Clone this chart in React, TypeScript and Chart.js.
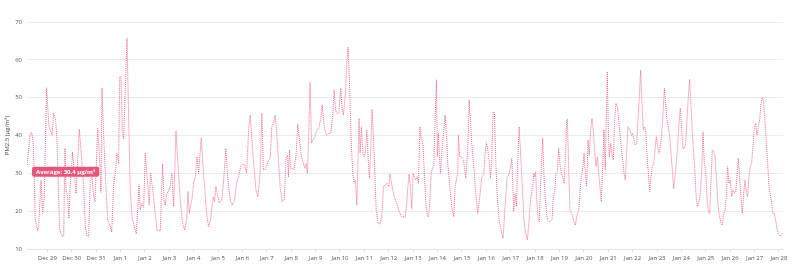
import React, { useEffect, useRef } from "react";
import { Chart, registerables } from "chart.js";

Chart.register(...registerables);

// x tick labels (one per day, midnight)
const tickLabels = [
  "Dec 29", "Dec 30", "Dec 31", "Jan 1", "Jan 2", "Jan 3", "Jan 4", "Jan 5", "Jan 6", "Jan 7",
  "Jan 8", "Jan 9", "Jan 10", "Jan 11", "Jan 12", "Jan 13", "Jan 14", "Jan 15", "Jan 16", "Jan 17",
  "Jan 18", "Jan 19", "Jan 20", "Jan 21", "Jan 22", "Jan 23", "Jan 24", "Jan 25", "Jan 26", "Jan 27", "Jan 28",
];

// hours since Dec 28 00:00
const hours = [
  4, 5.3, 7.3, 8.6, 10, 11, 12, 14.5, 15.5, 17.8, 19.4, 21, 23.3, 25.6, 28.6, 30.2, 32.2, 33.5, 36.1, 38.4,
  40.1, 41.4, 42.4, 44, 45.3, 46.6, 48.9, 50.6, 52.2, 53.8, 55.5, 57.4, 59.7, 61.4, 63, 64.7, 66.3, 67.9, 69.6, 70.9,
  72.2, 73.5, 75.5, 76.8, 77.8, 79.4, 81.1, 83.3, 86, 87.3, 89.3, 90.9, 92.5, 94.2, 95.2, 96.5, 97.8, 99.1, 100.4, 102.4,
  104, 105.6, 107.6, 109.6, 111.5, 112.9, 114.2, 115.5, 117.1, 118.8, 120.4, 122, 124.3, 125.6, 127.6, 131.9, 135.2, 137.4, 138.8, 140.1,
  141.4, 143.4, 144.7, 146.6, 148.3, 150.6, 151.9, 153.2, 154.8, 157.1, 159.1, 161.1, 162.4, 163.7, 165, 166.3, 168.3, 169.6, 171.2, 172.9,
  174.5, 175.5, 176.8, 178.8, 180.7, 182.7, 184.7, 186, 187.3, 188.6, 189.9, 191.2, 193.2, 195.8, 197.8, 199.7, 201.1, 202.4, 204.3, 206.3,
  208.3, 210.2, 212.2, 214.2, 216.1, 218.1, 220.1, 222.1, 223.7, 225.3, 227.3, 229.3, 231.2, 233.2, 235.2, 236.5, 238.5, 241, 243.3, 244.9,
  246.6, 248.2, 249.9, 251.5, 253.1, 255.1, 257.1, 259, 260.4, 261.3, 262.3, 263.6, 264.9, 266.9, 268.9, 270.5, 272.2, 274.1, 276.1, 277.4,
  278.7, 280, 281.3, 282.6, 284, 285.3, 287.2, 289.2, 291.2, 293.1, 294.5, 295.8, 297.1, 299, 301, 303, 305, 306.3, 307.6, 308.9,
  310.8, 312.8, 314.1, 315.4, 317.4, 318.7, 320, 321.3, 322.3, 323.3, 324.6, 325.9, 327.2, 328.6, 329.9, 330.8, 331.8, 333.1, 334.5, 335.8,
  337.1, 338.4, 339.7, 341, 342.3, 343.6, 345, 346.3, 347.6, 349.5, 351.5, 353.5, 354.8, 356.1, 358.1, 360, 361.3, 363.3, 365.3, 367.9,
  370.2, 372.9, 376.1, 377.5, 378.8, 380.1, 381.4, 382.7, 384, 385.3, 386.6, 387.9, 389.3, 390.6, 391.9, 393.2, 393.8, 395.2, 396.5, 397.8,
  399.1, 400.4, 401.7, 403, 404.3, 405.6, 407, 407.9, 408.9, 409.6, 410.9, 412.2, 414.2, 415.5, 416.8, 418.1, 420.1, 422, 424, 425.3,
  426.6, 427.9, 428.6, 429.9, 431.2, 433.2, 434.5, 435.8, 437.1, 438.4, 439.1, 440.4, 441.7, 443.7, 445.6, 447.6, 449.6, 451.6, 453.5, 454.8,
  456.1, 457.5, 458.8, 460.1, 461.4, 462.7, 464, 465.3, 466.6, 468.6, 470.6, 472.5, 474.5, 476.5, 478.4, 479.8, 481.1, 482.4, 483, 484.3,
  485.7, 487, 488.3, 489.6, 490.9, 492.9, 494.2, 496.4, 497.7, 499, 500.3, 501.7, 502.6, 503.6, 504.6, 505.6, 506.9, 508.2, 509.5, 511.5,
  512.8, 514.1, 516.1, 518.1, 520.7, 522, 523.3, 524.6, 525.9, 527.2, 528.5, 529.9, 531.2, 532.5, 533.8, 535.1, 535.8, 537.1, 538.4, 540.4,
  541.7, 543.6, 545.6, 546.9, 548.2, 549.5, 550.8, 552.2, 553.5, 554.8, 556.1, 557.4, 558.7, 560, 561.3, 562.7, 564, 565.3, 566.6, 567.9,
  569.2, 570.5, 571.8, 573.1, 573.8, 574.5, 575.1, 576.1, 577.1, 578.4, 579.7, 581, 582.3, 583.6, 585, 586.3, 587.6, 589.5, 591.5, 592.8,
  594.1, 595.4, 597.4, 598.7, 600, 601.3, 602.7, 604, 605.3, 606.6, 607.9, 609.2, 610.5, 611.8, 613.1, 613.8, 615.5, 616.8, 618.1, 619.4,
  620.7, 622, 623.3, 624.7, 626, 627.3, 628.6, 629.9, 631.2, 632.5, 633.8, 635.2, 636.5, 637.8, 639.1, 640.4, 641.7, 643, 644.3, 645.6,
  647, 648.3, 649.6, 650.9, 652.2, 653.5, 654.8, 656.1, 657.5, 658.8, 660.1, 661.4, 662.7, 664, 665.3, 666.6, 668, 669.3, 670.6, 671.9,
  673.2, 674.5, 675.8, 677.1, 678.4, 679.7, 681.1, 682.4, 683.7, 685, 687, 688.3, 689.6, 690.9, 692.2, 693.5, 694.8, 696.1, 697.5, 698.8,
  700.1, 701.4, 702.7, 704, 705.3, 706.6, 708, 709.3, 710.6, 711.9, 713.2, 714.5, 715.8, 717.1, 718.4, 719.8, 721.1, 722.4, 723.7, 725,
  726.3, 727.6, 728.9, 730.2, 731.6, 732.9, 734.2, 735.5, 736.8, 738.1, 739.4, 740.7, 742, 743.4, 745.3, 747.3,
];

// PM2.5 (µg/m³)
const pm25 = [
  32.2, 35.7, 40.6, 40.8, 38.5, 31, 18, 14.8, 16, 28.2, 19.4, 23.8, 52.6, 42.3, 40.1, 45.9, 44, 38.8, 15, 13.4,
  13.4, 36.6, 25.6, 24, 18.1, 27, 35.6, 30, 24.7, 33, 41.7, 35.3, 27, 16, 13.4, 13.4, 28.2, 29, 24, 22.5,
  32, 41.9, 34, 25, 52.6, 40, 30, 17.7, 16, 14.5, 27, 30, 35.3, 32.6, 55.5, 55.5, 41, 39, 50, 65.7,
  45, 25.6, 18, 16, 14, 20, 27, 20.3, 22, 21, 35.3, 30, 21.6, 30, 26, 15, 14.8, 32.5, 23, 21.6,
  24.7, 25.2, 26.5, 30, 21.2, 41.2, 35.3, 30, 23, 16.8, 15, 17.7, 25.2, 19.4, 21.6, 23, 28.2, 28.6, 34.4, 30,
  36, 39.3, 33.5, 26.5, 19.4, 15.9, 17.7, 21.2, 23.8, 22.5, 26.5, 24.7, 22.2, 23, 29.1, 36.6, 30.4, 26.5, 22.5, 21.6,
  23, 27.4, 29.1, 31.8, 32.5, 32.3, 30, 41.4, 45.4, 38.8, 31.8, 25.6, 23.8, 29.1, 45.9, 30.9, 31, 33, 34, 42.3,
  43.2, 45.4, 40.1, 33.5, 26.5, 22.5, 23, 34.4, 34.8, 29.1, 36.2, 31.3, 31.3, 30.9, 35.3, 43, 38.8, 34.4, 32.6, 31.3,
  32.6, 30, 40.6, 54, 38, 38.8, 39.7, 41.5, 41.9, 44.5, 48.1, 44.1, 41.5, 40.1, 40.6, 40.6, 45.9, 52, 46.7, 45.9,
  45.9, 52.5, 47.2, 45.4, 51.1, 59.1, 63.3, 54.7, 45, 37, 30, 27.4, 28.2, 21.6, 35.3, 44.5, 35.3, 42.3, 35.3, 34.4,
  35.7, 41.5, 34, 28.7, 36.2, 46.9, 39.7, 30, 20.3, 16.8, 16.6, 19.4, 26.5, 26.9, 27.4, 26.5, 29.8, 26.5, 23.8, 22.1,
  19.9, 18.5, 18.4, 21.2, 26.5, 29.8, 25.6, 20.7, 30, 29.1, 28.2, 29.1, 27.4, 42.3, 38.8, 38.4, 37, 29.1, 22.1, 19,
  18.5, 22, 30, 31.3, 31.8, 44.1, 54.7, 34.4, 40.6, 36.2, 30, 35.3, 41.5, 45.4, 40, 32.6, 26.5, 21.2, 18.5, 26.5,
  28.2, 30, 40.1, 34.4, 34.4, 33.5, 31.8, 28.7, 33.5, 41, 49.4, 44.1, 37.9, 31.8, 24.7, 19.4, 23.8, 29.1, 29.6, 35.3,
  38.1, 36.2, 33.5, 28.7, 33.5, 46.3, 45.9, 33.5, 24.7, 17.7, 15, 12.8, 21.2, 29.1, 29.6, 31.8, 34, 24.7, 19.9, 24.7,
  21.2, 33.5, 42.3, 36.2, 29.1, 18.5, 15, 12.4, 15.9, 21.2, 24.7, 26.5, 30, 29.1, 30.4, 23, 18.5, 17.2, 27.4, 39.3,
  29.1, 23, 17.7, 17.2, 17.7, 23.8, 25.2, 30, 30.4, 36.6, 32.6, 30, 29.1, 27.4, 33.5, 44.1, 44.3, 30.9, 19.9, 19.4,
  17.7, 16.3, 19.4, 20, 24.7, 29.1, 30.9, 35.3, 30, 26.5, 38.8, 34.8, 41.5, 44.5, 41.5, 35.3, 31.8, 34.4, 30, 26.5,
  22.5, 30.9, 41.5, 30.9, 41.5, 48.5, 56.9, 41.5, 34.4, 37.9, 35.3, 33.5, 44.1, 48.5, 47.6, 44.1, 40.1, 35.3, 30, 28.2,
  35.3, 42.3, 41.5, 40, 40.6, 38.8, 37.5, 37.9, 44.1, 50.3, 57.3, 48.5, 41.5, 42.3, 40.5, 36.2, 30, 25.2, 29.1, 31.8,
  32.6, 36.2, 39.7, 37, 35.3, 37, 40.1, 45.9, 52.5, 48.5, 44.1, 42.3, 39.7, 35.3, 30.9, 26, 29.1, 32.6, 37, 43.2,
  47.2, 41.5, 36.6, 36.6, 37.9, 44.1, 50.3, 54.8, 47.6, 40.6, 35.3, 30, 23, 21.2, 22.5, 24.7, 30.9, 41, 32.6, 30.9,
  23.8, 19.9, 19.4, 27.4, 36.2, 35.7, 34.4, 29.1, 23, 19.4, 16.8, 16.3, 19.4, 19.9, 23.8, 31.8, 27.4, 28.2, 23.8, 25.6,
  24.7, 25, 29.1, 34, 29, 23.8, 19.4, 24.7, 28.2, 25, 23.8, 29.1, 31.8, 32.6, 37, 42.3, 43.2, 40.1, 42.3, 44.1,
  48.5, 50.1, 48.9, 44.1, 37.9, 32.6, 26.5, 24.3, 22.1, 19.4, 19.4, 17.7, 15.5, 14.1, 13.4, 14.1,
];

const averageValue = 30.4;
const averageText = "Average: 30.4 µg/m³";
const yTitle = "PM2.5 (µg/m³)";

const PINK = "rgb(233, 84, 122)";
const LINE = "rgba(232, 82, 120, 0.85)";
const FONT = "'Open Sans', 'Noto Sans', sans-serif";

const averageLabelPlugin = {
  id: "averageLabel",
  afterDatasetsDraw(chart: any) {
    const { ctx, chartArea, scales } = chart;
    const y = scales.y.getPixelForValue(averageValue);
    ctx.save();
    ctx.font = `bold 6px ${FONT}`;
    const w = ctx.measureText(averageText).width + 8;
    const h = 10;
    const x = chartArea.left + 5;
    ctx.fillStyle = PINK;
    ctx.beginPath();
    (ctx as any).roundRect(x, y - h / 2, w, h, 2);
    ctx.fill();
    ctx.fillStyle = "#ffffff";
    ctx.textBaseline = "middle";
    ctx.textAlign = "left";
    ctx.fillText(averageText, x + 4, y + 0.5);
    ctx.restore();
  },
};

export default function App() {
  const ref = useRef<HTMLCanvasElement | null>(null);

  useEffect(() => {
    document.body.style.margin = "0";
    const canvas = ref.current;
    if (!canvas) return;
    const data = hours.map((h, i) => ({ x: h, y: pm25[i] }));
    const chart = new Chart(canvas, {
      type: "line",
      data: {
        datasets: [
          {
            data,
            borderColor: LINE,
            borderWidth: 1,
            borderDash: [1, 1],
            pointRadius: 0,
            tension: 0,
            fill: false,
          },
        ],
      },
      options: {
        animation: false,
        responsive: false,
        maintainAspectRatio: false,
        layout: { padding: { top: 22, right: 17, left: 0, bottom: 0 } },
        plugins: { legend: { display: false }, tooltip: { enabled: false } },
        scales: {
          x: {
            type: "linear",
            min: 4,
            max: 748,
            afterBuildTicks: (scale: any) => {
              scale.ticks = tickLabels.map((_, i) => ({ value: (i + 1) * 24 }));
            },
            afterFit: (scale: any) => {
              scale.height = 17;
            },
            ticks: {
              autoSkip: false,
              maxRotation: 0,
              padding: 3,
              color: "#555",
              font: { family: FONT, size: 6 },
              callback: (v: any) => {
                const idx = Math.round(Number(v) / 24) - 1;
                return tickLabels[idx] ?? "";
              },
            },
            grid: { drawOnChartArea: false, tickLength: 3, color: "#dddddd" },
            border: { display: true, color: "#e6e6e6" },
          },
          y: {
            min: 10,
            max: 70,
            afterFit: (scale: any) => {
              scale.width = 27;
            },
            ticks: {
              stepSize: 10,
              padding: 5,
              color: "#555",
              font: { family: FONT, size: 6 },
            },
            title: {
              display: true,
              text: yTitle,
              color: "#444",
              padding: { top: 4, bottom: 0 },
              font: { family: FONT, size: 6 },
            },
            grid: { color: "#ececec", drawTicks: false },
            border: { display: false },
          },
        },
      },
      plugins: [averageLabelPlugin],
    });
    return () => chart.destroy();
  }, []);

  return (
    <div style={{ width: 800, height: 266, background: "#fff" }}>
      <canvas ref={ref} width={800} height={266} style={{ display: "block" }} />
    </div>
  );
}
